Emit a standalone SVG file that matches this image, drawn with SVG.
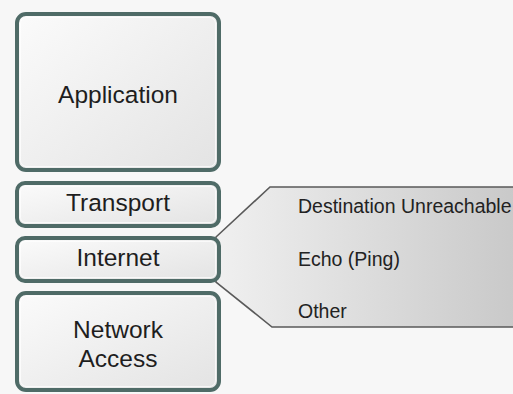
<svg xmlns="http://www.w3.org/2000/svg" width="513" height="394" viewBox="0 0 513 394">
  <defs>
    <linearGradient id="boxFill" x1="0" y1="0" x2="1" y2="1">
      <stop offset="0" stop-color="#fbfbfb"/>
      <stop offset="1" stop-color="#e3e3e3"/>
    </linearGradient>
    <linearGradient id="calloutFill" x1="0" y1="0" x2="1" y2="0">
      <stop offset="0" stop-color="#f0f0f0"/>
      <stop offset="1" stop-color="#c9c9c9"/>
    </linearGradient>
  </defs>
  <style>
    .layer { fill: url(#boxFill); stroke: #4f6b67; stroke-width: 4; }
    .inner { fill: none; stroke: #ffffff; stroke-opacity: 0.7; stroke-width: 1; }
    .lbl { font-family: "Liberation Sans", Arial, sans-serif; font-size: 24.5px; fill: #1e1e1e; text-anchor: middle; }
    .item { font-family: "Liberation Sans", Arial, sans-serif; font-size: 19.5px; fill: #222222; }
    .callout { fill: url(#calloutFill); stroke: #5a5a5a; stroke-width: 1.6; }
  </style>
  <rect x="0" y="0" width="513" height="394" fill="#f7f7f7"/>

  <g id="connectors">
    <polygon class="callout" points="270,187 516,187 516,327 272,327 216,282 216,237"/>
  </g>

  <g id="application">
    <rect class="layer" x="17" y="14" width="202" height="156" rx="9"/>
    <rect class="inner" x="20.5" y="17.5" width="195" height="149" rx="6"/>
    <text class="lbl" x="118" y="103">Application</text>
  </g>

  <g id="transport">
    <rect class="layer" x="17" y="183" width="202" height="43" rx="8"/>
    <rect class="inner" x="20.5" y="186.5" width="195" height="36" rx="5"/>
    <text class="lbl" x="118" y="211">Transport</text>
  </g>

  <g id="internet">
    <rect class="layer" x="17" y="238" width="202" height="43" rx="8"/>
    <rect class="inner" x="20.5" y="241.5" width="195" height="36" rx="5"/>
    <text class="lbl" x="118" y="266">Internet</text>
  </g>

  <g id="network-access">
    <rect class="layer" x="17" y="293" width="202" height="97" rx="9"/>
    <rect class="inner" x="20.5" y="296.5" width="195" height="90" rx="6"/>
    <text class="lbl" x="118" y="338">Network</text>
    <text class="lbl" x="118" y="367">Access</text>
  </g>

  <g id="icmp-messages">
    <text class="item" x="298" y="213">Destination Unreachable</text>
    <text class="item" x="298" y="266">Echo (Ping)</text>
    <text class="item" x="298" y="318">Other</text>
  </g>
</svg>
